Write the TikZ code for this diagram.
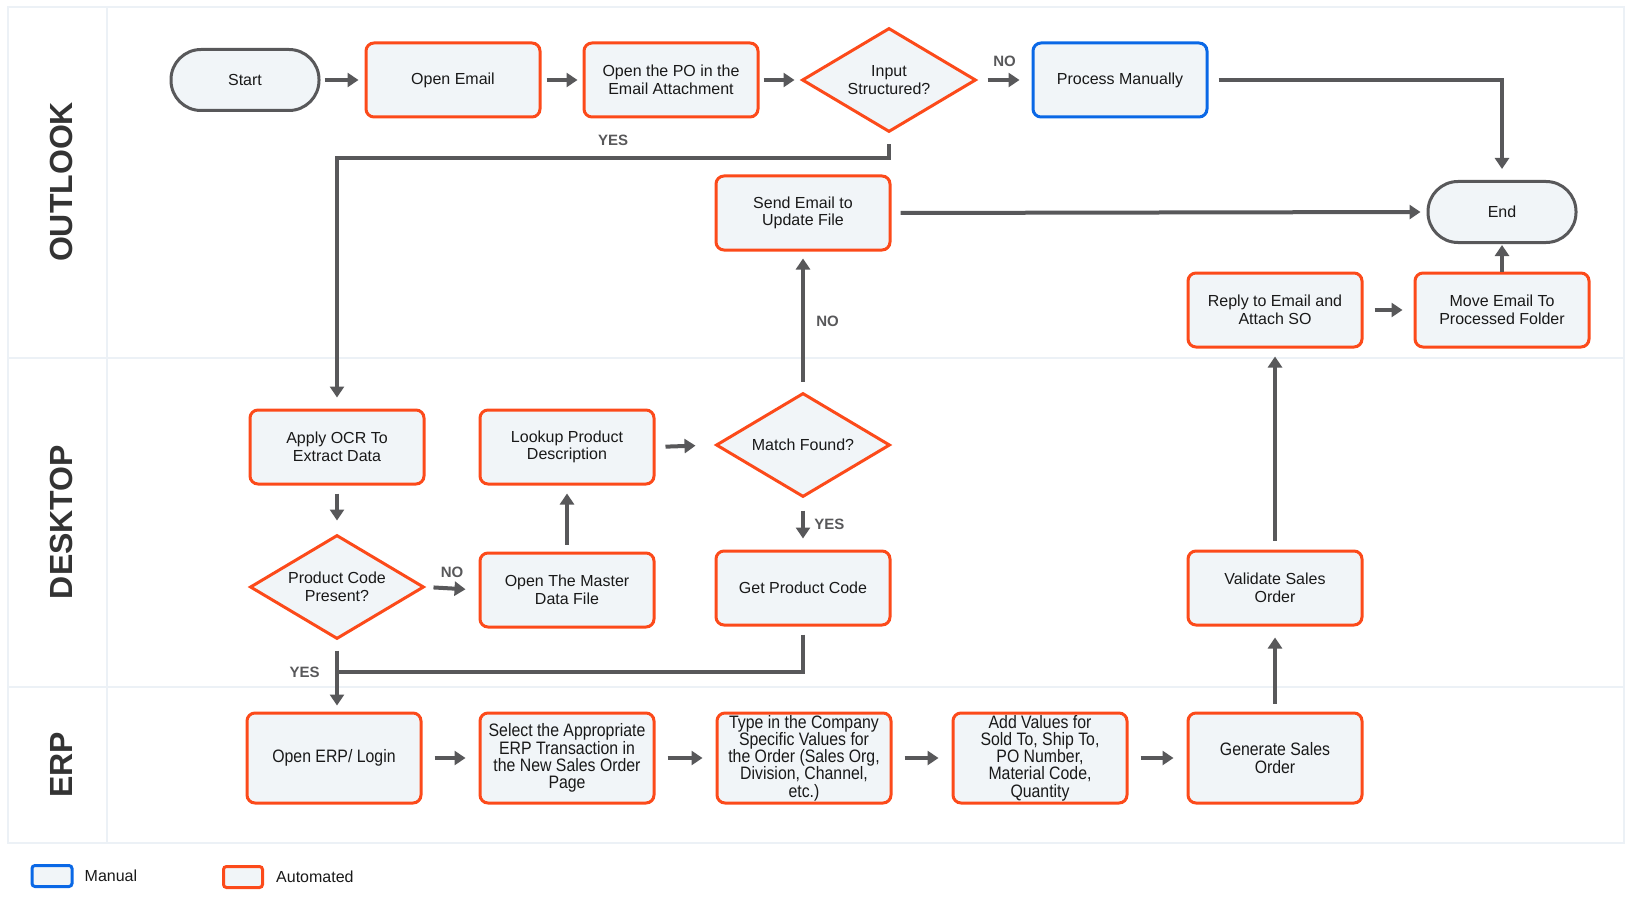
\documentclass[tikz,border=0pt]{standalone}
\usepackage{fontspec}
\setmainfont{Liberation Sans}
\newfontfamily\erpfont[FakeStretch=0.88]{Liberation Sans}
\usetikzlibrary{positioning,arrows.meta,shapes.geometric}

\definecolor{autoorange}{RGB}{252,74,26}
\definecolor{manualblue}{RGB}{10,104,230}
\definecolor{boxfill}{RGB}{241,245,248}
\definecolor{flowgray}{RGB}{88,88,90}
\definecolor{lanegray}{RGB}{236,241,246}
\definecolor{labelgray}{RGB}{51,51,51}

\begin{document}
\begin{tikzpicture}[
    x=1pt, y=-1pt,
    boxfont/.style={font=\fontsize{16}{17.5}\selectfont, text=black!90},
    autobox/.style={rectangle, rounded corners=8pt, draw=autoorange, fill=boxfill, line width=3pt, minimum width=174pt, minimum height=74pt, align=center, inner sep=2pt, boxfont},
    manualbox/.style={autobox, draw=manualblue},
    erpbox/.style={autobox, minimum height=90pt, inner sep=0pt, font=\erpfont\fontsize{18}{17.3}\selectfont},
    decision/.style={diamond, aspect=1.67, draw=autoorange, fill=boxfill, line width=3pt, minimum width=174pt, minimum height=104pt, align=center, inner sep=0pt, boxfont},
    terminal/.style={rectangle, rounded corners=30pt, draw=flowgray, fill=boxfill, line width=3pt, minimum width=148pt, minimum height=61pt, boxfont},
    lanelabel/.style={rotate=90, font=\fontsize{32}{32}\selectfont\bfseries, text=labelgray},
    answer/.style={font=\fontsize{15}{15}\selectfont\bfseries, text=flowgray},
    flow/.style={-{Triangle[length=11pt,width=14pt]}, draw=flowgray, line width=4pt, shorten <=8pt, shorten >=10pt},
    link/.style={draw=flowgray, line width=4pt}
    ]
        \useasboundingbox (0,0) rectangle (1637,904);

        %Lanes
        \draw[lanegray, line width=2pt] (8,7) rectangle (1624,843);
        \draw[lanegray, line width=2pt] (107,7) -- (107,843);
        \draw[lanegray, line width=2pt] (8,358) -- (1624,358);
        \draw[lanegray, line width=2pt] (8,687) -- (1624,687);
        \node[lanelabel] (outlook) at (61,182) {OUTLOOK};
        \node[lanelabel] (desktop) at (61,522) {DESKTOP};
        \node[lanelabel] (erp)     at (61,765) {ERP};

        %Nodes
        \node[terminal]  (start)     at (245,80)  {Start};
        \node[autobox]   (openemail) at (453,80)  {Open Email};
        \node[autobox]   (openpo)    at (671,80)  {Open the PO in the\\Email Attachment};
        \node[decision]  (input)     at (889,80)  {Input\\Structured?};
        \node[manualbox] (manual)    at (1120,80) {Process Manually};
        \node[terminal]  (end)       at (1502,212) {End};
        \node[autobox]   (sendemail) at (803,213) {Send Email to\\Update File};
        \node[autobox]   (reply)     at (1275,310) {Reply to Email and\\Attach SO};
        \node[autobox]   (moveemail) at (1502,310) {Move Email To\\Processed Folder};

        \node[autobox]   (ocr)       at (337,447) {Apply OCR To\\Extract Data};
        \node[decision]  (codecheck) at (337,587) {Product Code\\Present?};
        \node[autobox]   (master)    at (567,590) {Open The Master\\Data File};
        \node[autobox]   (lookup)    at (567,447) {Lookup Product\\Description};
        \node[decision]  (match)     at (803,445) {Match Found?};
        \node[autobox]   (getcode)   at (803,588) {Get Product Code};
        \node[autobox]   (validate)  at (1275,588) {Validate Sales\\Order};

        \node[erpbox]    (openerp)   at (334,758) {Open ERP/ Login};
        \node[erpbox]    (select)    at (567,758) {Select the Appropriate\\ERP Transaction in\\the New Sales Order\\Page};
        \node[erpbox]    (typein)    at (804,758) {Type in the Company\\Specific Values for\\the Order (Sales Org,\\Division, Channel,\\etc.)};
        \node[erpbox]    (addvalues) at (1040,758) {Add Values for\\Sold To, Ship To,\\PO Number,\\Material Code,\\Quantity};
        \node[erpbox]    (generate)  at (1275,758) {Generate Sales\\Order};

        \coordinate (yesjoin) at (337,672);

        %Legend
        \node[manualbox, minimum width=40pt, minimum height=21pt, rounded corners=3pt] (manualkey) at (52,876) {};
        \node[boxfont, inner sep=0pt, right=11pt of manualkey] (manualtext) {Manual};
        \node[autobox, minimum width=39pt, minimum height=21pt, rounded corners=3pt] (autokey) at (243,877) {};
        \node[boxfont, inner sep=0pt, right=12pt of autokey] (autotext) {Automated};

        %Lines
        \draw[flow, shorten <=4pt, shorten >=6pt] (start.east) -- (openemail.west);
        \draw[flow, shorten <=5pt, shorten >=5pt] (openemail.east) -- (openpo.west);
        \draw[flow, shorten <=4pt, shorten >=6pt] (openpo.east) -- (input.west);
        \draw[flow, shorten <=10pt, shorten >=12pt]
            (input.east) -- node[above=8pt, answer] {NO} (manual.west);
        \draw[flow, shorten <=11pt, shorten >=11pt]
            (input.south) -- ++(0,25) -| node[pos=0.25, above=8pt, answer] {YES} (ocr.north);
        \draw[flow, shorten <=10pt, shorten >=11pt] (manual.east) -| (end.north);
        \draw[flow, shorten <=9pt, shorten >=6pt] (sendemail.east) -- (end.west);
        \draw[flow, shorten <=10pt, shorten >=7pt]
            (match.north) -- node[right=8pt, answer] {NO} (sendemail.south);
        \draw[flow, shorten <=11pt, shorten >=11pt] (reply.east) -- (moveemail.west);
        \draw[flow, shorten <=0pt, shorten >=1pt] (moveemail.north) -- (end.south);

        \draw[flow, shorten <=8pt, shorten >=13pt] (ocr.south) -- (codecheck.north);
        \draw[flow, shorten <=8pt, shorten >=13pt]
            (codecheck.east) -- node[above=6pt, answer] {NO} (master.west);
        \draw[flow, shorten <=7pt, shorten >=8pt] (master.north) -- (lookup.south);
        \draw[flow, shorten <=10pt, shorten >=19pt] (lookup.east) -- (match.west);
        \draw[flow, shorten <=12pt, shorten >=11pt]
            (match.south) -- node[right=6pt, answer] {YES} (getcode.north);
        \draw[flow, shorten <=10pt, shorten >=6pt]
            (codecheck.south) -- node[pos=0.45, left=12pt, answer] {YES} (openerp.north -| codecheck.south);
        \draw[link, shorten <=8pt] (getcode.south) |- (yesjoin);

        \draw[flow, shorten <=12pt, shorten >=13pt] (openerp.east) -- (select.west);
        \draw[flow, shorten <=12pt, shorten >=13pt] (select.east) -- (typein.west);
        \draw[flow, shorten <=12pt, shorten >=13pt] (typein.east) -- (addvalues.west);
        \draw[flow, shorten <=12pt, shorten >=13pt] (addvalues.east) -- (generate.west);
        \draw[flow, shorten <=8pt, shorten >=11pt] (generate.north) -- (validate.south);
        \draw[flow, shorten <=9pt, shorten >=8pt] (validate.north) -- (reply.south);
\end{tikzpicture}
\end{document}
